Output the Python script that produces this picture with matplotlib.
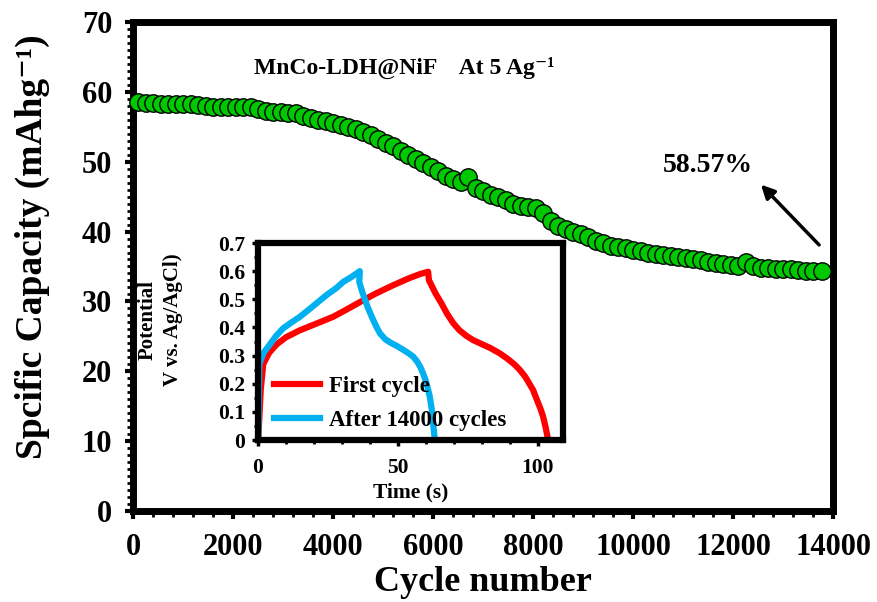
import matplotlib
matplotlib.use("Agg")
import matplotlib.pyplot as plt
from matplotlib.ticker import MultipleLocator

plt.rcParams['font.family'] = ['Liberation Serif', 'DejaVu Serif']
plt.rcParams['font.weight'] = 'bold'

# cycling stability (main plot)
cycles = [100, 250, 400, 550, 700, 850, 1000, 1150, 1300, 1450, 1600, 1750,
          1900, 2050, 2200, 2350, 2500, 2650, 2800, 2950, 3100, 3250, 3400,
          3550, 3700, 3850, 4000, 4150, 4300, 4450, 4600, 4750, 4900, 5050,
          5200, 5350, 5500, 5650, 5800, 5950, 6100, 6250, 6400, 6550, 6700,
          6850, 7000, 7150, 7300, 7450, 7600, 7750, 7900, 8050, 8200, 8350,
          8500, 8650, 8800, 8950, 9100, 9250, 9400, 9550, 9700, 9850, 10000,
          10150, 10300, 10450, 10600, 10750, 10900, 11050, 11200, 11350,
          11500, 11650, 11800, 11950, 12100, 12250, 12400, 12550, 12700,
          12850, 13000, 13150, 13300, 13450, 13600, 13780]
capacity = [58.5, 58.4, 58.4, 58.3, 58.3, 58.3, 58.3, 58.2, 58.1, 58.0, 57.9,
            57.9, 57.9, 57.8, 57.8, 57.8, 57.5, 57.2, 57.1, 57.1, 57.0, 57.0,
            56.6, 56.3, 56.0, 55.8, 55.5, 55.2, 55.0, 54.7, 54.3, 53.8, 53.2,
            52.7, 52.2, 51.5, 50.9, 50.4, 49.8, 49.2, 48.6, 47.9, 47.5, 47.1,
            47.8, 46.3, 45.8, 45.3, 44.9, 44.5, 44.0, 43.7, 43.5, 43.3, 42.6,
            41.5, 40.8, 40.3, 40.0, 39.7, 39.2, 38.7, 38.3, 38.0, 37.8, 37.6,
            37.4, 37.2, 37.0, 36.8, 36.6, 36.5, 36.3, 36.2, 36.0, 35.9, 35.7,
            35.5, 35.4, 35.2, 35.1, 35.6, 35.0, 34.8, 34.8, 34.7, 34.6, 34.6,
            34.5, 34.4, 34.3, 34.3]

# GCD curves (inset)
t_first = [0.1, 1.0, 1.9, 4.0, 6.7, 10.0, 15.0, 20.0, 26.9, 31.0, 36.4, 42.0,
           48.3, 54.0, 58.0, 60.8, 61.1, 62.0, 63.5, 65.5, 67.5, 69.8, 72.0,
           74.5, 76.9, 79.5, 83.0, 86.4, 89.0, 91.5, 93.6, 95.5, 97.0, 98.3,
           99.8, 101.0, 101.9, 102.8, 103.7]
v_first = [0.0, 0.18, 0.27, 0.31, 0.34, 0.365, 0.39, 0.41, 0.438, 0.46, 0.49,
           0.52, 0.55, 0.575, 0.59, 0.598, 0.568, 0.55, 0.52, 0.487, 0.45,
           0.415, 0.39, 0.37, 0.355, 0.343, 0.327, 0.308, 0.29, 0.27, 0.249,
           0.225, 0.2, 0.178, 0.14, 0.11, 0.083, 0.045, 0.0]
t_after = [0.1, 0.3, 0.5, 2.0, 4.3, 6.5, 9.0, 12.0, 15.0, 19.0, 24.5, 28.0,
           30.5, 33.5, 36.4, 36.2, 37.0, 38.0, 39.3, 40.8, 42.2, 43.6, 45.5,
           47.5, 49.5, 52.0, 54.0, 55.5, 56.8, 58.0, 59.0, 60.0, 60.8, 61.4,
           62.1, 62.6, 63.2]
v_after = [0.0, 0.15, 0.27, 0.31, 0.34, 0.37, 0.397, 0.418, 0.438, 0.47, 0.515,
           0.54, 0.562, 0.58, 0.60, 0.562, 0.535, 0.505, 0.47, 0.435, 0.405,
           0.379, 0.358, 0.345, 0.335, 0.32, 0.307, 0.296, 0.28, 0.26, 0.237,
           0.21, 0.18, 0.154, 0.11, 0.06, 0.0]

fig = plt.figure(figsize=(8.78, 6.02), dpi=100)
ax = fig.add_axes([0.1515, 0.1512, 0.7973, 0.8123])

ax.plot(cycles, capacity, 'o', color='#00C800', markeredgecolor='black',
        markeredgewidth=1.0, markersize=12.5, zorder=3, clip_on=False)

ax.set_xlim(0, 14000)
ax.set_ylim(0, 70)
ax.xaxis.set_major_locator(MultipleLocator(2000))
ax.xaxis.set_minor_locator(MultipleLocator(400))
ax.yaxis.set_major_locator(MultipleLocator(10))
ax.yaxis.set_minor_locator(MultipleLocator(1))
for side in ['left', 'right', 'top', 'bottom']:
    ax.spines[side].set_linewidth(5)
ax.tick_params(which='major', direction='out', length=6, width=3, labelsize=22, pad=10)
ax.tick_params(which='minor', direction='out', length=4, width=2)
ax.tick_params(axis='y', which='major', pad=9)
ax.set_xlabel('Cycle number', fontsize=26, fontweight='bold', labelpad=3)
ax.set_ylabel('Spcific Capacity (mAhg\u207b\u00b9)', fontsize=27, fontweight='bold')
ax.yaxis.set_label_coords(-0.118, 0.54)

ax.text(5420, 63.4, 'MnCo-LDH@NiF    At 5 Ag\u207b\u00b9', fontsize=17,
        fontweight='bold', ha='center', va='center')
ax.text(11500, 49.5, '58.57%', fontsize=20, fontweight='bold', ha='center', va='center')
ax.annotate('', xy=(12520, 47.0), xytext=(13760, 37.8),
            arrowprops=dict(arrowstyle='-|>', color='black', lw=2.5, mutation_scale=20))

# inset
ins = fig.add_axes([0.2938, 0.2691, 0.3474, 0.3272])
ins.plot(t_first, v_first, color='#FF0000', lw=4.5, label='First cycle')
ins.plot(t_after, v_after, color='#00B0F0', lw=4.5, label='After 14000 cycles')
ins.set_xlim(0, 109)
ins.set_ylim(0, 0.7)
ins.xaxis.set_major_locator(MultipleLocator(50))
ins.xaxis.set_minor_locator(MultipleLocator(10))
ins.yaxis.set_minor_locator(MultipleLocator(0.05))
ins.set_yticks([0, 0.1, 0.2, 0.3, 0.4, 0.5, 0.6, 0.7])
ins.set_yticklabels(['0', '0.1', '0.2', '0.3', '0.4', '0.5', '0.6', '0.7'])
for side in ['left', 'right', 'top', 'bottom']:
    ins.spines[side].set_linewidth(4.5)
ins.tick_params(which='major', direction='out', length=4, width=2.5, labelsize=15.5, pad=5)
ins.tick_params(which='minor', direction='out', length=3, width=2)
ins.tick_params(axis='x', which='major', pad=9)
ins.set_xlabel('Time (s)', fontsize=15.5, fontweight='bold', labelpad=3)
ins.set_ylabel('Potential\nV vs. Ag/AgCl)', fontsize=15, fontweight='bold',
               linespacing=1.35)
ins.yaxis.set_label_coords(-0.246, 0.61)
ins.legend(loc='lower left', bbox_to_anchor=(0.0, -0.035), frameon=False,
           prop={'size': 16.5, 'weight': 'bold'}, handlelength=2.0,
           handletextpad=0.4, labelspacing=0.55, borderaxespad=0.3)

fig.savefig('out.png', dpi=100)
